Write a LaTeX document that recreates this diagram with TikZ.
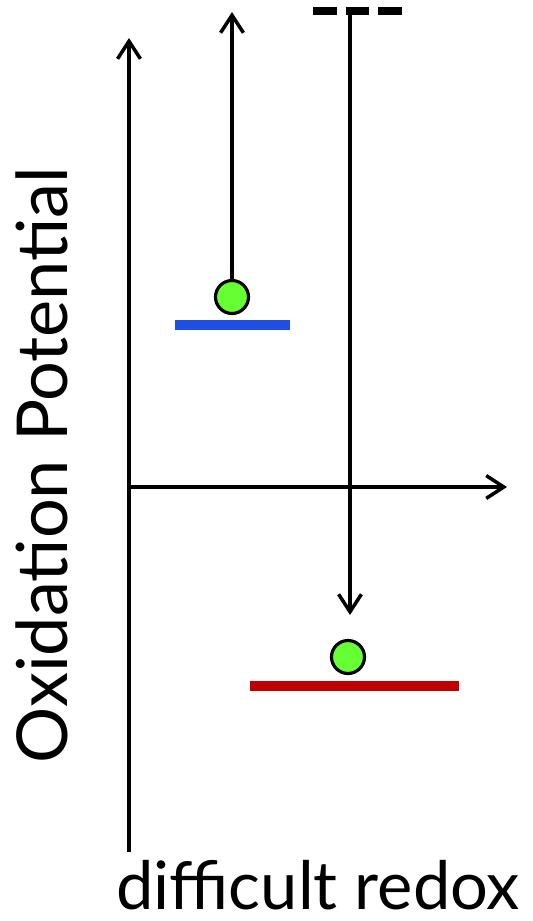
\documentclass[tikz,border=0pt]{standalone}
\usepackage{fontspec}
\setmainfont{Lato}
\usetikzlibrary{arrows.meta}
\usetikzlibrary{positioning}

\definecolor{levelblue}{RGB}{31,79,224}
\definecolor{levelred}{RGB}{192,0,0}
\definecolor{dotgreen}{RGB}{102,255,51}

\tikzset{
  axis/.style={black,line width=2pt,-{Straight Barb[length=10pt,width=13pt,line width=2pt]}},
  level/.style={line width=5.5pt},
  electron/.style={circle,draw=black,line width=1.8pt,fill=dotgreen,inner sep=0pt,minimum size=0.66cm},
  label text/.style={text=black,inner sep=0pt}
}

\begin{document}
\begin{tikzpicture}[x=0.02cm,y=-0.02cm]
\useasboundingbox (0,0) rectangle (533,921);

% axes
\coordinate (O) at (129,487);
\coordinate (ytop) at (129,38);
\coordinate (ybot) at (129,852);
\coordinate (xend) at (507,487);
\draw[black,line width=2pt] (ybot) -- (O);
\draw[axis] (O) -- (ytop);
\draw[axis] (O) -- (xend);

\node[label text,font=\fontsize{40}{40}\selectfont,rotate=90,anchor=center] (ylab) at (42,465) {Oxidation Potential};
\node[label text,font=\fontsize{38}{38}\selectfont,anchor=base] (xlab) at (318,909) {difficult redox};

% upper level
\draw[levelblue,level] (175,325) -- (290,325);
\node[electron] (e1) at (232,297) {};
\coordinate (e1top) at (232,12);
\draw[axis] (e1) -- (e1top);

% lower level
\draw[black,line width=4pt,dash pattern=on 13.5pt off 5pt] (313,11) -- (402,11);
\coordinate (vac) at (350,11);
\coordinate (e2top) at (350,615);
\draw[axis] (vac) -- (e2top);
\draw[levelred,level] (250,686) -- (459,686);
\node[electron] (e2) at (348,657) {};

\end{tikzpicture}
\end{document}
